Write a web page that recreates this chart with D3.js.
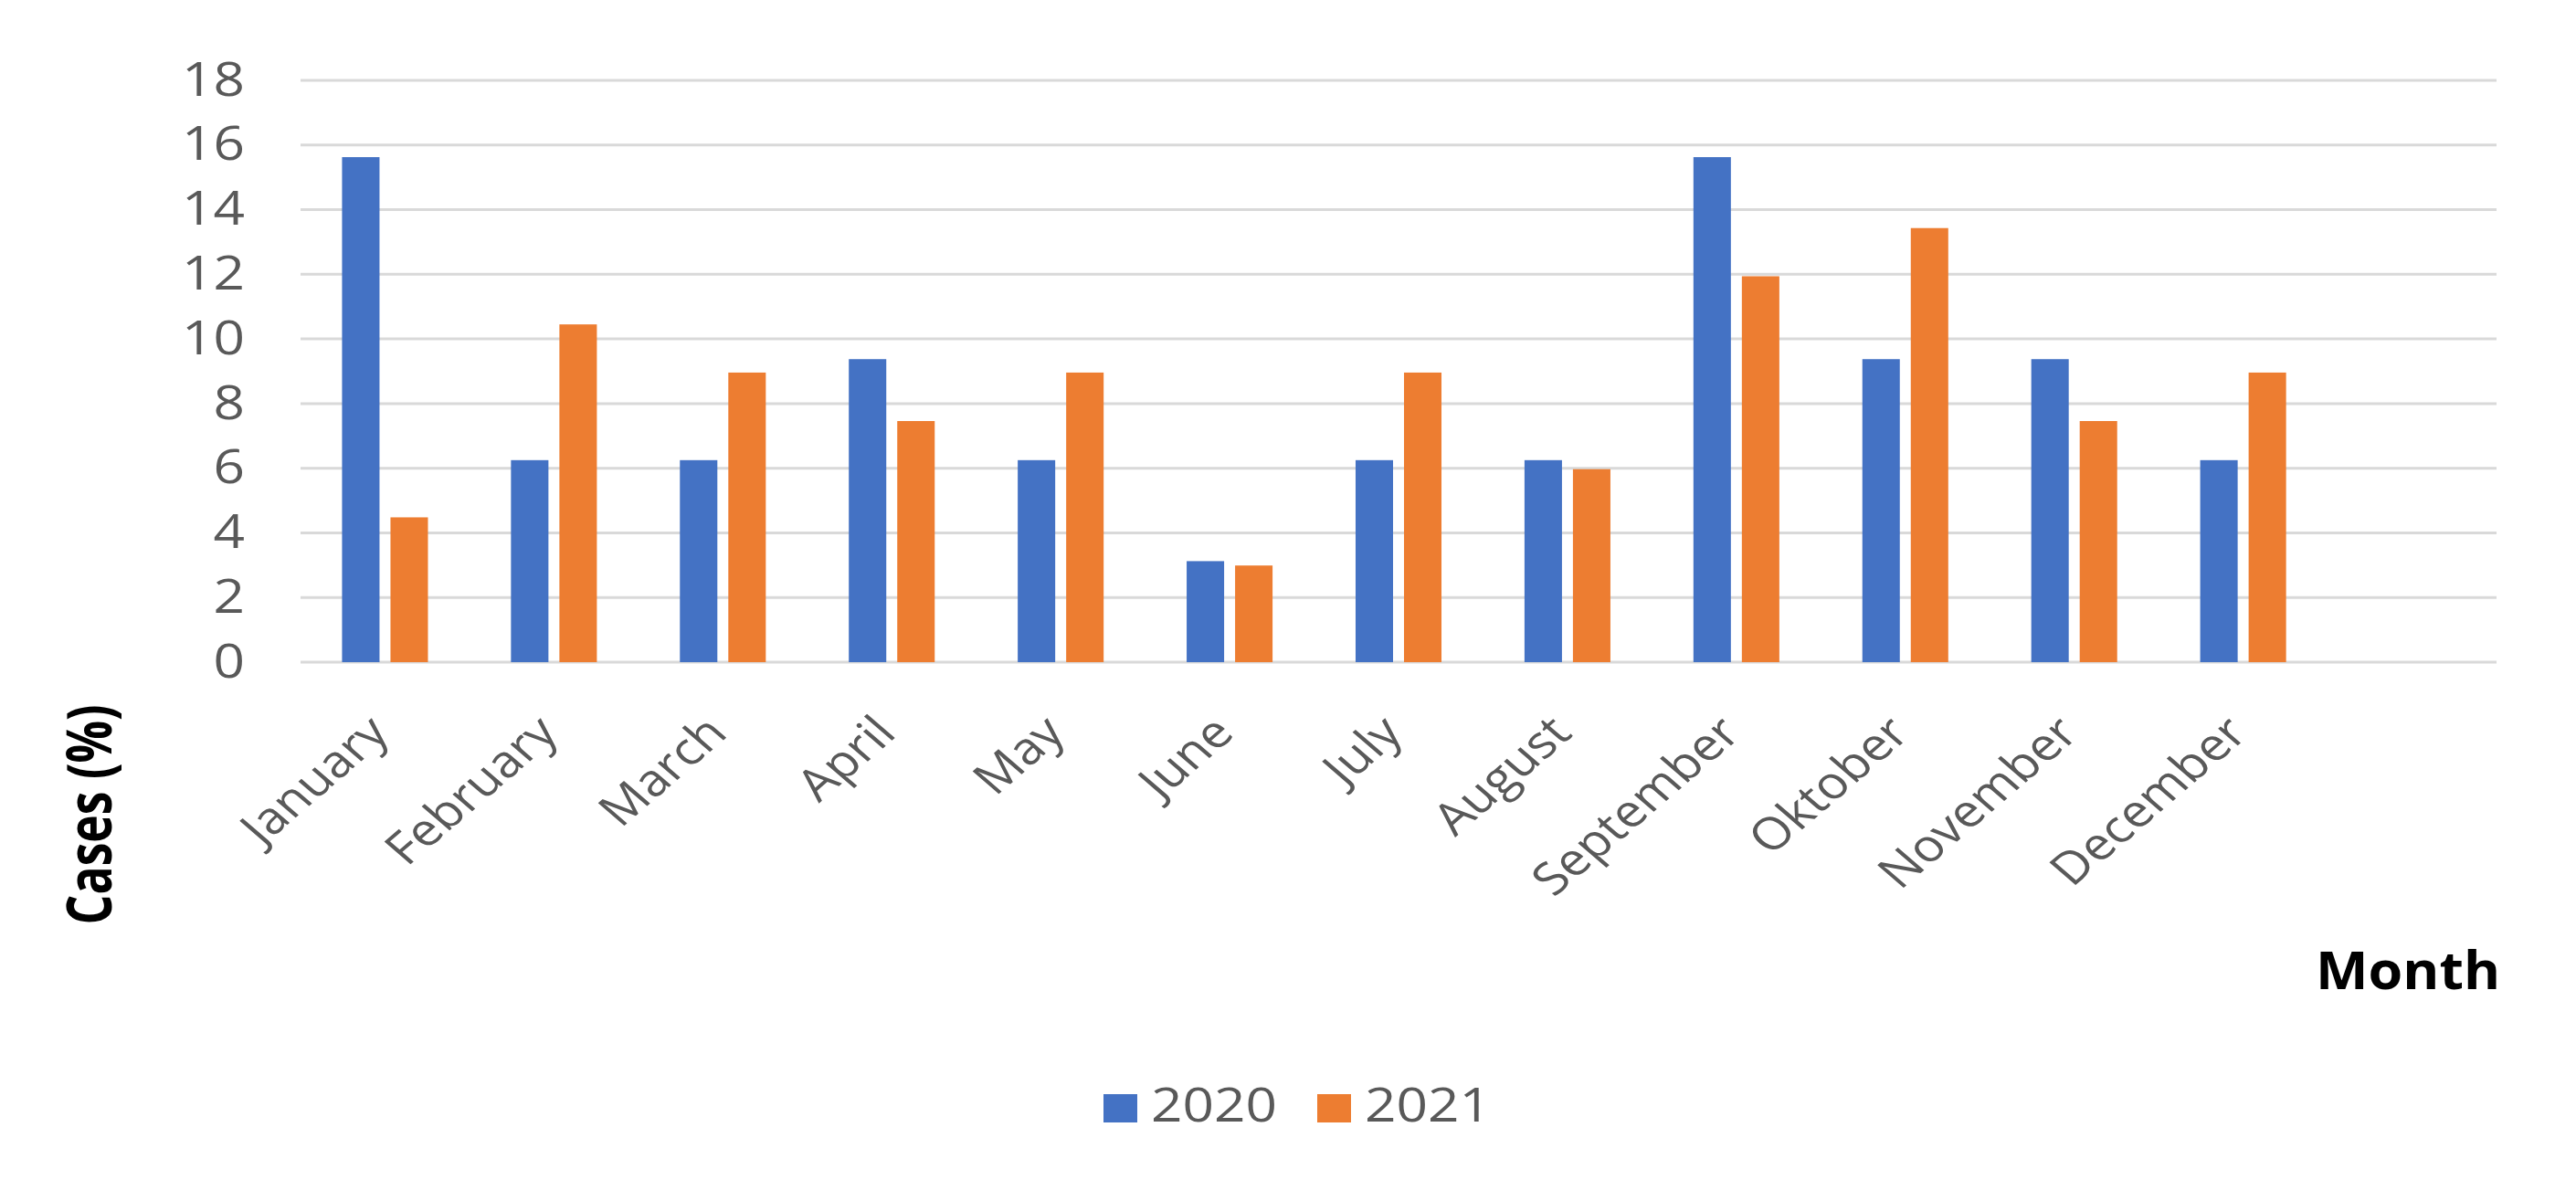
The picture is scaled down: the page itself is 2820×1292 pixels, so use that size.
<!DOCTYPE html>
<html>
<head>
<meta charset="utf-8">
<script src="https://cdn.jsdelivr.net/npm/d3@7"></script>
<style>
  html, body { margin: 0; padding: 0; background: #ffffff; }
  svg { display: block; }
</style>
</head>
<body>
<svg id="chart" width="2820" height="1292"></svg>
<script>
// ---- data ----
const months = ["January", "February", "March", "April", "May", "June", "July",
                "August", "September", "Oktober", "November", "December", ""];
const seriesNames = ["2020", "2021"];
const values2020 = [15.625, 6.25, 6.25, 9.375, 6.25, 3.125, 6.25, 6.25, 15.625, 9.375, 9.375, 6.25];
const values2021 = [4.48, 10.45, 8.96, 7.46, 8.96, 2.99, 8.96, 5.97, 11.94, 13.43, 7.46, 8.96];
const yTicks = [0, 2, 4, 6, 8, 10, 12, 14, 16, 18];
const yTitle = "Cases (%)";
const xTitle = "Month";

(function () {
// ---- layout / style ----
const W = 2820, H = 1292;
const plotLeft = 329, plotRight = 2733, plotTop = 88, plotBottom = 725;
const k = 1.16;                 // horizontal stretch of the reference image
const colors = ["#4472C4", "#ED7D31"];
const font = "'Open Sans', 'Noto Sans', sans-serif";
const textGrey = "#595959";

const svg = d3.select("#chart");
svg.append("rect").attr("width", W).attr("height", H).attr("fill", "#fff");

const x0 = d3.scaleBand().domain(months).range([plotLeft, plotRight]).padding(0);
const x1 = d3.scaleBand().domain(seriesNames).range([0, x0.bandwidth()])
  .paddingInner(0.2264).paddingOuter(0.857);
const y = d3.scaleLinear().domain([0, 18]).range([plotBottom, plotTop]);

// gridlines
svg.append("g").selectAll("line").data(yTicks).join("line")
  .attr("x1", plotLeft).attr("x2", plotRight)
  .attr("y1", d => y(d)).attr("y2", d => y(d))
  .attr("stroke", "#D9D9D9").attr("stroke-width", 3);

// y tick labels
svg.append("g").selectAll("text").data(yTicks).join("text")
  .attr("transform", d => `translate(268,${y(d)}) scale(${k},1)`)
  .attr("dy", "0.32em")
  .attr("text-anchor", "end")
  .attr("font-family", font).attr("font-size", 52).attr("fill", textGrey)
  .text(d => d);

// bars
const table = months.slice(0, values2020.length).map((m, i) => ({
  month: m, vals: [values2020[i], values2021[i]]
}));
const groups = svg.append("g").selectAll("g").data(table).join("g")
  .attr("transform", d => `translate(${x0(d.month)},0)`);
groups.selectAll("rect").data(d => d.vals.map((v, j) => ({ s: seriesNames[j], v, j })))
  .join("rect")
  .attr("x", d => x1(d.s))
  .attr("width", x1.bandwidth())
  .attr("y", d => y(d.v))
  .attr("height", d => y(0) - y(d.v))
  .attr("fill", d => colors[d.j]);

// x labels (rotated)
svg.append("g").selectAll("text").data(months.filter(m => m !== "")).join("text")
  .attr("transform", d => `translate(${x0(d) + x0.bandwidth() / 2 + 7},805) scale(${k},1) rotate(-45)`)
  .attr("text-anchor", "end")
  .attr("font-family", font).attr("font-size", 49).attr("fill", textGrey)
  .text(d => d);

// axis titles
svg.append("text")
  .attr("transform", `translate(122,892) scale(${k},1) rotate(-90)`)
  .attr("text-anchor", "middle")
  .attr("font-family", font).attr("font-size", 58).attr("font-weight", "bold").attr("fill", "#000")
  .attr("textLength", 241).attr("lengthAdjust", "spacingAndGlyphs")
  .text(yTitle);

svg.append("text")
  .attr("transform", `translate(2737,1083) scale(${k},1)`)
  .attr("text-anchor", "end")
  .attr("font-family", font).attr("font-size", 58).attr("font-weight", "bold").attr("fill", "#000")
  .attr("textLength", 202 / k).attr("lengthAdjust", "spacingAndGlyphs")
  .text(xTitle);

// legend
const legendX = d3.scalePoint().domain(seriesNames).range([1208, 1442]);
const lg = svg.append("g").selectAll("g").data(seriesNames).join("g")
  .attr("transform", d => `translate(${legendX(d)},1198)`);
lg.append("rect").attr("width", 37).attr("height", 31)
  .attr("fill", (d, i) => colors[i]);
lg.append("text")
  .attr("transform", `translate(52,30) scale(${k},1)`)
  .attr("font-family", font).attr("font-size", 52).attr("fill", textGrey)
  .text(d => d);
})();
</script>
</body>
</html>
